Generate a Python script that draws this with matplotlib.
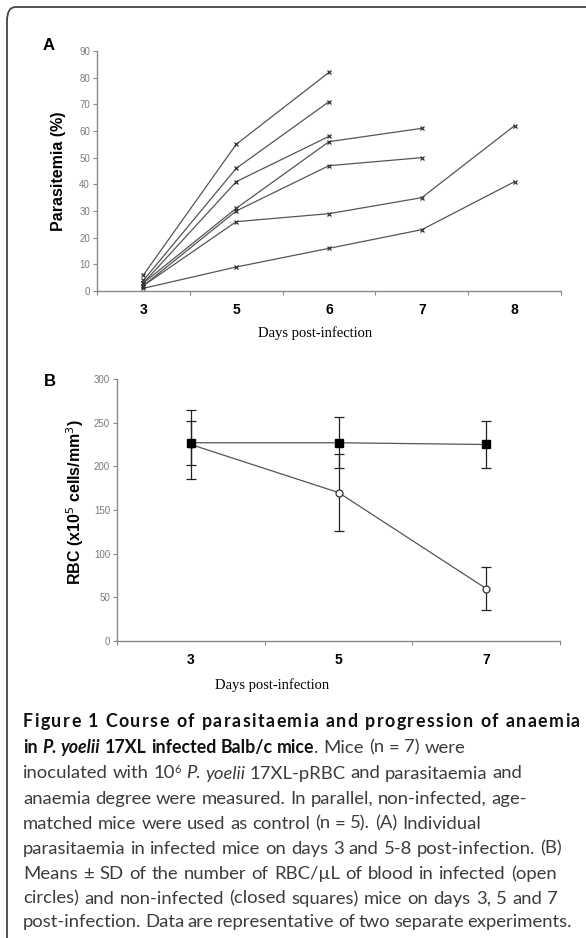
import re
import numpy as np
import matplotlib
matplotlib.use('Agg')
import matplotlib.pyplot as plt
from matplotlib.patches import FancyBboxPatch
from matplotlib.font_manager import FontProperties

# panel A: individual parasitaemia (%) per mouse, days 3, 5, 6, 7, 8
days_a = ['3', '5', '6', '7', '8']
mouse1 = [6, 55, 82, np.nan, np.nan]
mouse2 = [4, 46, 71, np.nan, np.nan]
mouse3 = [3, 41, 58, np.nan, np.nan]
mouse4 = [3, 31, 56, 61, np.nan]
mouse5 = [2, 30, 47, 50, np.nan]
mouse6 = [2, 26, 29, 35, 62]
mouse7 = [1, 9, 16, 23, 41]
mice = [mouse1, mouse2, mouse3, mouse4, mouse5, mouse6, mouse7]

# panel B: RBC (x10^5 cells/mm3), mean +- SD
days_b = ['3', '5', '7']
infected_mean = [225, 170, 60]
infected_sd = [39, 44, 25]
control_mean = [227, 227, 225]
control_sd = [25, 29, 27]

W, H = 586, 938
fig = plt.figure(figsize=(W / 100, H / 100), dpi=100)


def ax_rect(x0, y0, x1, y1):
    # pixel box (top-left origin) -> figure fraction
    return [x0 / W, 1 - y1 / H, (x1 - x0) / W, (y1 - y0) / H]


def style_axis(ax, n, ymax, ystep):
    ax.set_xlim(-0.5, n - 0.5)
    ax.set_ylim(0, ymax)
    for s in ['top', 'right']:
        ax.spines[s].set_visible(False)
    for s in ['left', 'bottom']:
        ax.spines[s].set_color('#8a8a8a')
        ax.spines[s].set_linewidth(1.0)
    ax.set_yticks(np.arange(0, ymax + 1, ystep))
    ax.tick_params(axis='y', direction='out', length=3, width=0.8, color='#8a8a8a',
                   labelsize=7, labelcolor='#7a7a7a', pad=2)
    # ticks at the category boundaries, labels at the centres
    ax.set_xticks(np.arange(-0.5, n, 1.0))
    ax.set_xticklabels([])
    ax.set_xticks(np.arange(n), minor=True)
    ax.tick_params(axis='x', which='major', direction='out', length=3, width=0.8, color='#8a8a8a')
    ax.tick_params(axis='x', which='minor', length=0, pad=9, labelsize=10)
    for lab in ax.get_yticklabels():
        lab.set_family('Liberation Sans')


# ---- panel A
axA = fig.add_axes(ax_rect(97, 51, 561, 291))
style_axis(axA, len(days_a), 90, 10)
axA.set_xticklabels(days_a, minor=True, fontweight='bold', family='Liberation Sans')
xa = np.arange(len(days_a))
for m in mice:
    axA.plot(xa, m, color='#555555', lw=0.9, marker='x', ms=3.5, mew=0.9, mec='#333333')
fig.text(58 / W, 1 - 171 / H, 'Parasitemia (%)', rotation=90, ha='center', va='center',
         fontsize=11.5, fontweight='bold', family='Liberation Sans')
fig.text(315 / W, 1 - 333 / H, 'Days post-infection', ha='center', va='center',
         fontsize=10.5, family='Liberation Serif')
fig.text(49 / W, 1 - 45 / H, 'A', ha='center', va='center', fontsize=12,
         fontweight='bold', family='Liberation Sans')

# ---- panel B
axB = fig.add_axes(ax_rect(117, 379, 560, 641))
style_axis(axB, len(days_b), 300, 50)
axB.set_xticklabels(days_b, minor=True, fontweight='bold', family='Liberation Sans')
xb = np.arange(len(days_b))
axB.errorbar(xb, infected_mean, yerr=infected_sd, color='#555555', lw=0.9, ecolor='#222222',
             elinewidth=0.9, capsize=3.5, capthick=0.9, marker='o', ms=5, mfc='white',
             mec='#333333', mew=0.9, zorder=3)
axB.errorbar(xb, control_mean, yerr=control_sd, color='#555555', lw=0.9, ecolor='#222222',
             elinewidth=0.9, capsize=3.5, capthick=0.9, marker='s', ms=6, mfc='black',
             mec='black', zorder=4)
fig.text(75 / W, 1 - 502 / H, r'RBC (x10$^5$ cells/mm$^3$)', rotation=90, ha='center',
         va='center', fontsize=11.5, fontweight='bold', family='Liberation Sans')
fig.text(272 / W, 1 - 685 / H, 'Days post-infection', ha='center', va='center',
         fontsize=10.5, family='Liberation Serif')
fig.text(50 / W, 1 - 382 / H, 'B', ha='center', va='center', fontsize=12,
         fontweight='bold', family='Liberation Sans')

# ---- frame (top and left edges with a rounded corner)
frame = FancyBboxPatch((7 / W, -0.05), 1.2, 1 - 7 / H + 0.05,
                       boxstyle='round,pad=0,rounding_size=0.015',
                       transform=fig.transFigure, fill=False, ec='#444444', lw=1.3)
fig.add_artist(frame)

# ---- caption
fig.canvas.draw()
renderer = fig.canvas.get_renderer()
cap_font = 'Lato'
cap_size = 13.3
body = dict(family=cap_font, size=cap_size, color='#3c3c3c')
bold = dict(family=cap_font, size=12.8, weight='bold', color='#111111')
bold_it = dict(family=cap_font, size=12.8, weight='bold', style='italic', color='#111111')
ital = dict(family=cap_font, size=cap_size, style='italic', color='#3c3c3c')
sup = dict(family=cap_font, size=cap_size * 0.6, color='#3c3c3c')


def advance(s, props):
    fp = FontProperties(family=props['family'], size=props['size'],
                        weight=props.get('weight', 'normal'), style=props.get('style', 'normal'))
    w1, _, _ = renderer.get_text_width_height_descent(s + '|', fp, ismath=False)
    w0, _, _ = renderer.get_text_width_height_descent('|', fp, ismath=False)
    return w1 - w0


def caption_line(y, pieces, right=None, mode='words', x=23):
    # 'words': stretch spaces only; 'chars': spread the slack over every letter gap
    tokens = []
    for s, props, dy in pieces:
        parts = list(s) if mode == 'chars' else re.split('( )', s)
        for tok in parts:
            if tok:
                tokens.append((tok, props, dy))
    natural = sum(advance(t, p) for t, p, _ in tokens)
    if mode == 'chars':
        gaps = len(tokens) - 1
    else:
        gaps = sum(1 for t, _, _ in tokens if t == ' ')
    extra = 0 if right is None else (right - x - natural) / max(gaps, 1)
    base = y + 4.5
    for tok, props, dy in tokens:
        if tok == ' ':
            x += advance(' ', props) + extra
            continue
        fig.text(x / W, 1 - (base - dy) / H, tok, ha='left', va='baseline', **props)
        x += advance(tok, props) + (extra if mode == 'chars' else 0)


caption = [
    (722, 580, 'chars', [('Figure 1 Course of parasitaemia and progression of anaemia', bold, 0)]),
    (748, None, 'words', [('in ', bold, 0), ('P. yoelii', bold_it, 0), (' 17XL infected Balb/c mice', bold, 0),
                          ('. Mice (n = 7) were', body, 0)]),
    (774, None, 'words', [('inoculated with 10', body, 0), ('6', sup, 6), (' ', body, 0), ('P. yoelii', ital, 0),
                          (' 17XL-pRBC and parasitaemia and', body, 0)]),
    (799, None, 'words', [('anaemia degree were measured. In parallel, non-infected, age-', body, 0)]),
    (824, None, 'words', [('matched mice were used as control (n = 5). (A) Individual', body, 0)]),
    (849, 562, 'words', [('parasitaemia in infected mice on days 3 and 5-8 post-infection. (B)', body, 0)]),
    (874, 557, 'words', [('Means \u00b1 SD of the number of RBC/\u00b5L of blood in infected (open', body, 0)]),
    (899, 558, 'words', [('circles) and non-infected (closed squares) mice on days 3, 5 and 7', body, 0)]),
    (922, 572, 'words', [('post-infection. Data are representative of two separate experiments.', body, 0)]),
]
for y, right, mode, pieces in caption:
    caption_line(y, pieces, right, mode)

fig.savefig('out.png', dpi=100)
